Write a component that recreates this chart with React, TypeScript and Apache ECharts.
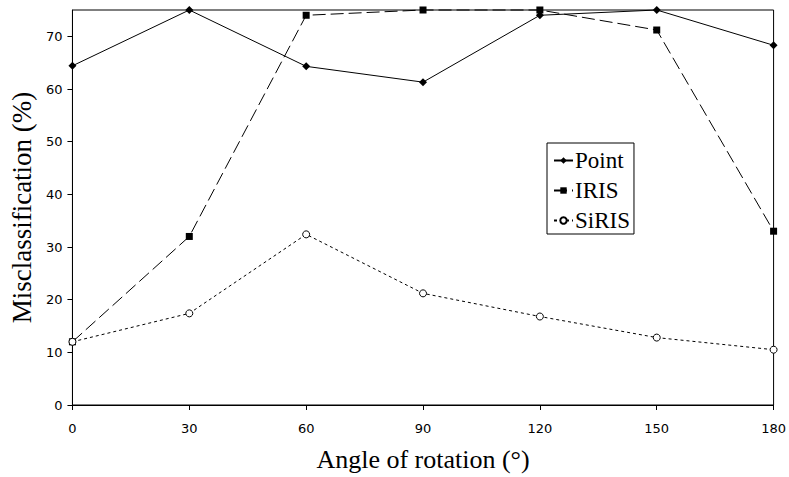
import React, { useEffect, useRef } from "react";
import * as echarts from "echarts";

const angles = [0, 30, 60, 90, 120, 150, 180];
const pointValues = [64.4, 75, 64.3, 61.3, 74.0, 75, 68.3];
const irisValues = [12.0, 32.0, 74.0, 75, 75, 71.2, 33.0];
const sirisValues = [12.0, 17.4, 32.4, 21.2, 16.8, 12.8, 10.5];
const yTicks = [0, 10, 20, 30, 40, 50, 60, 70];
const xTicks = [0, 30, 60, 90, 120, 150, 180];

const serif = "'Liberation Serif', 'Times New Roman', serif";
const sans = "'DejaVu Sans', Verdana, sans-serif";

function pairs(vals: number[]) {
  return angles.map((a, i) => [a, vals[i]]);
}

export default function App() {
  const ref = useRef<HTMLDivElement>(null);
  useEffect(() => {
    if (!ref.current) return;
    const chart = echarts.init(ref.current, null, { renderer: "svg" });
    chart.setOption({
      animation: false,
      backgroundColor: "#fff",
      grid: {
        left: 71,
        right: 14,
        top: 10,
        bottom: 71,
        show: true,
        borderColor: "#000",
        borderWidth: 1,
      },
      legend: {
        orient: "vertical",
        left: 547,
        top: 143,
        data: ["Point", "IRIS", "SiRIS"],
        itemWidth: 19,
        itemHeight: 8,
        itemGap: 7,
        padding: [6, 4, 2, 6],
        borderColor: "#000",
        borderWidth: 1,
        backgroundColor: "#fff",
        textStyle: {
          fontFamily: serif,
          fontSize: 23,
          lineHeight: 23,
          color: "#000",
          padding: [0, 0, 0, -3],
        },
      },
      xAxis: {
        type: "value",
        min: 0,
        max: 180,
        interval: 30,
        name: "Angle of rotation (°)",
        nameLocation: "middle",
        nameGap: 41,
        nameTextStyle: { fontFamily: serif, fontSize: 26, color: "#000" },
        axisLine: { lineStyle: { color: "#000", width: 1 } },
        axisTick: { show: true, length: 5, inside: false, lineStyle: { color: "#000" }, customValues: xTicks },
        axisLabel: { fontFamily: sans, fontSize: 13, color: "#000", margin: 17, customValues: xTicks },
        splitLine: { show: false },
      },
      yAxis: {
        type: "value",
        min: 0,
        max: 75,
        interval: 10,
        name: "Misclassification (%)",
        nameLocation: "middle",
        nameGap: 33,
        nameTextStyle: { fontFamily: serif, fontSize: 27, color: "#000" },
        axisLine: { show: true, lineStyle: { color: "#000", width: 1 } },
        axisTick: { show: true, length: 5, lineStyle: { color: "#000" }, customValues: yTicks },
        axisLabel: { fontFamily: sans, fontSize: 13, color: "#000", margin: 10, customValues: yTicks },
        splitLine: { show: false },
      },
      series: [
        {
          name: "Point",
          type: "line",
          data: pairs(pointValues),
          symbol: "diamond",
          symbolSize: 8,
          clip: false,
          lineStyle: { color: "#000", width: 1, type: "solid" },
          itemStyle: { color: "#000" },
        },
        {
          name: "IRIS",
          type: "line",
          data: pairs(irisValues),
          symbol: "rect",
          symbolSize: 7,
          clip: false,
          lineStyle: { color: "#000", width: 1, type: [13, 5] },
          itemStyle: { color: "#000" },
        },
        {
          name: "SiRIS",
          type: "line",
          data: pairs(sirisValues),
          symbol: "circle",
          symbolSize: 7,
          clip: false,
          lineStyle: { color: "#000", width: 1, type: [3, 3] },
          itemStyle: { color: "#fff", borderColor: "#000", borderWidth: 1 },
        },
      ],
    });
    return () => chart.dispose();
  }, []);
  return <div ref={ref} style={{ width: 789, height: 477, position: "absolute", left: 0, top: 0 }} />;
}
